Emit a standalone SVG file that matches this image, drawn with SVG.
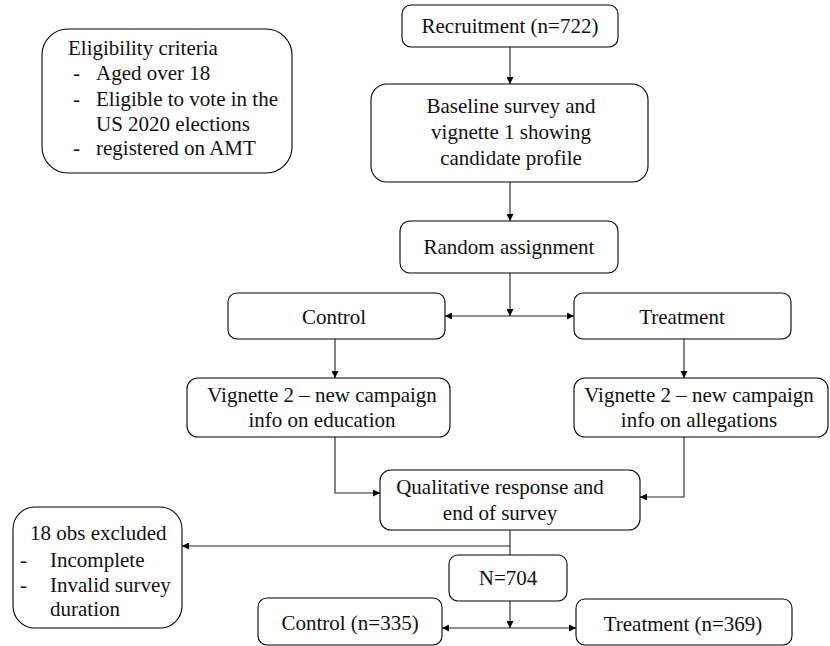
<svg xmlns="http://www.w3.org/2000/svg" width="830" height="646" viewBox="0 0 830 646">
<defs>
<style>
.box{fill:#fff;stroke:#000;stroke-width:1.1}
.t{font-family:"Liberation Serif","Times New Roman",serif;font-size:21px;fill:#111;text-anchor:middle;dominant-baseline:central}
.l{text-anchor:start}
.c{fill:none;stroke:#222;stroke-width:1.1}
</style>
<marker id="ah" viewBox="0 0 10 10" refX="10" refY="5" markerWidth="7" markerHeight="7" markerUnits="userSpaceOnUse" orient="auto-start-reverse">
<path d="M0,0 L10,5 L0,10 z" fill="#000"/>
</marker>
</defs>
<rect width="830" height="646" fill="#fff"/>
<g id="connectors">
<line class="c" x1="510" y1="47" x2="510" y2="84" marker-end="url(#ah)"/>
<line class="c" x1="510" y1="182" x2="510" y2="221" marker-end="url(#ah)"/>
<line class="c" x1="510" y1="273" x2="510" y2="316" marker-end="url(#ah)"/>
<line class="c" x1="445" y1="316" x2="574" y2="316" marker-start="url(#ah)" marker-end="url(#ah)"/>
<line class="c" x1="335" y1="339" x2="335" y2="378" marker-end="url(#ah)"/>
<line class="c" x1="684" y1="339" x2="684" y2="378" marker-end="url(#ah)"/>
<polyline class="c" points="335,437 335,493 380,493" marker-end="url(#ah)"/>
<polyline class="c" points="684,437 684,497 640,497" marker-end="url(#ah)"/>
<line class="c" x1="510" y1="530" x2="510" y2="555"/>
<line class="c" x1="510" y1="546" x2="182" y2="546" marker-end="url(#ah)"/>
<line class="c" x1="510" y1="601" x2="510" y2="628" marker-end="url(#ah)"/>
<line class="c" x1="442" y1="628" x2="576" y2="628" marker-start="url(#ah)" marker-end="url(#ah)"/>
</g>
<g id="eligibility">
<rect class="box" x="42" y="29" width="250" height="144" rx="26"/>
<text class="t l" x="68" y="48">Eligibility criteria</text>
<text class="t l" x="73" y="73">-</text><text class="t l" x="96" y="73">Aged over 18</text>
<text class="t l" x="73" y="99">-</text><text class="t l" x="96" y="99">Eligible to vote in the</text>
<text class="t l" x="96" y="124">US 2020 elections</text>
<text class="t l" x="73" y="148">-</text><text class="t l" x="96" y="148">registered on AMT</text>
</g>
<g id="recruitment">
<rect class="box" x="402" y="5" width="216" height="42" rx="9"/>
<text class="t" x="510" y="26">Recruitment (n=722)</text>
</g>
<g id="baseline">
<rect class="box" x="371" y="84" width="277" height="98" rx="16"/>
<text class="t" x="511" y="106">Baseline survey and</text>
<text class="t" x="511" y="132">vignette 1 showing</text>
<text class="t" x="511" y="158">candidate profile</text>
</g>
<g id="random">
<rect class="box" x="400" y="221" width="218" height="52" rx="10"/>
<text class="t" x="509" y="247">Random assignment</text>
</g>
<g id="control">
<rect class="box" x="228" y="293" width="217" height="46" rx="9"/>
<text class="t" x="334" y="317">Control</text>
</g>
<g id="treatment">
<rect class="box" x="574" y="293" width="217" height="46" rx="9"/>
<text class="t" x="682" y="317">Treatment</text>
</g>
<g id="vignette-education">
<rect class="box" x="187" y="378" width="263" height="59" rx="11"/>
<text class="t" x="322" y="395">Vignette 2 – new campaign</text>
<text class="t" x="322" y="420">info on education</text>
</g>
<g id="vignette-allegations">
<rect class="box" x="574" y="378" width="254" height="59" rx="11"/>
<text class="t" x="699" y="395">Vignette 2 – new campaign</text>
<text class="t" x="699" y="420">info on allegations</text>
</g>
<g id="qualitative">
<rect class="box" x="380" y="470" width="260" height="60" rx="11"/>
<text class="t" x="500" y="487">Qualitative response and</text>
<text class="t" x="500" y="513">end of survey</text>
</g>
<g id="excluded">
<rect class="box" x="13" y="507" width="169" height="121" rx="22"/>
<text class="t l" x="30" y="533">18 obs excluded</text>
<text class="t l" x="20" y="560">-</text><text class="t l" x="50" y="560">Incomplete</text>
<text class="t l" x="20" y="585">-</text><text class="t l" x="50" y="585">Invalid survey</text>
<text class="t l" x="50" y="609">duration</text>
</g>
<g id="n704">
<rect class="box" x="449" y="555" width="118" height="46" rx="9"/>
<text class="t" x="508" y="578">N=704</text>
</g>
<g id="control-n">
<rect class="box" x="258" y="598" width="184" height="47" rx="9"/>
<text class="t" x="350" y="623">Control (n=335)</text>
</g>
<g id="treatment-n">
<rect class="box" x="576" y="599" width="216" height="46" rx="9"/>
<text class="t" x="683" y="624">Treatment (n=369)</text>
</g>
</svg>
